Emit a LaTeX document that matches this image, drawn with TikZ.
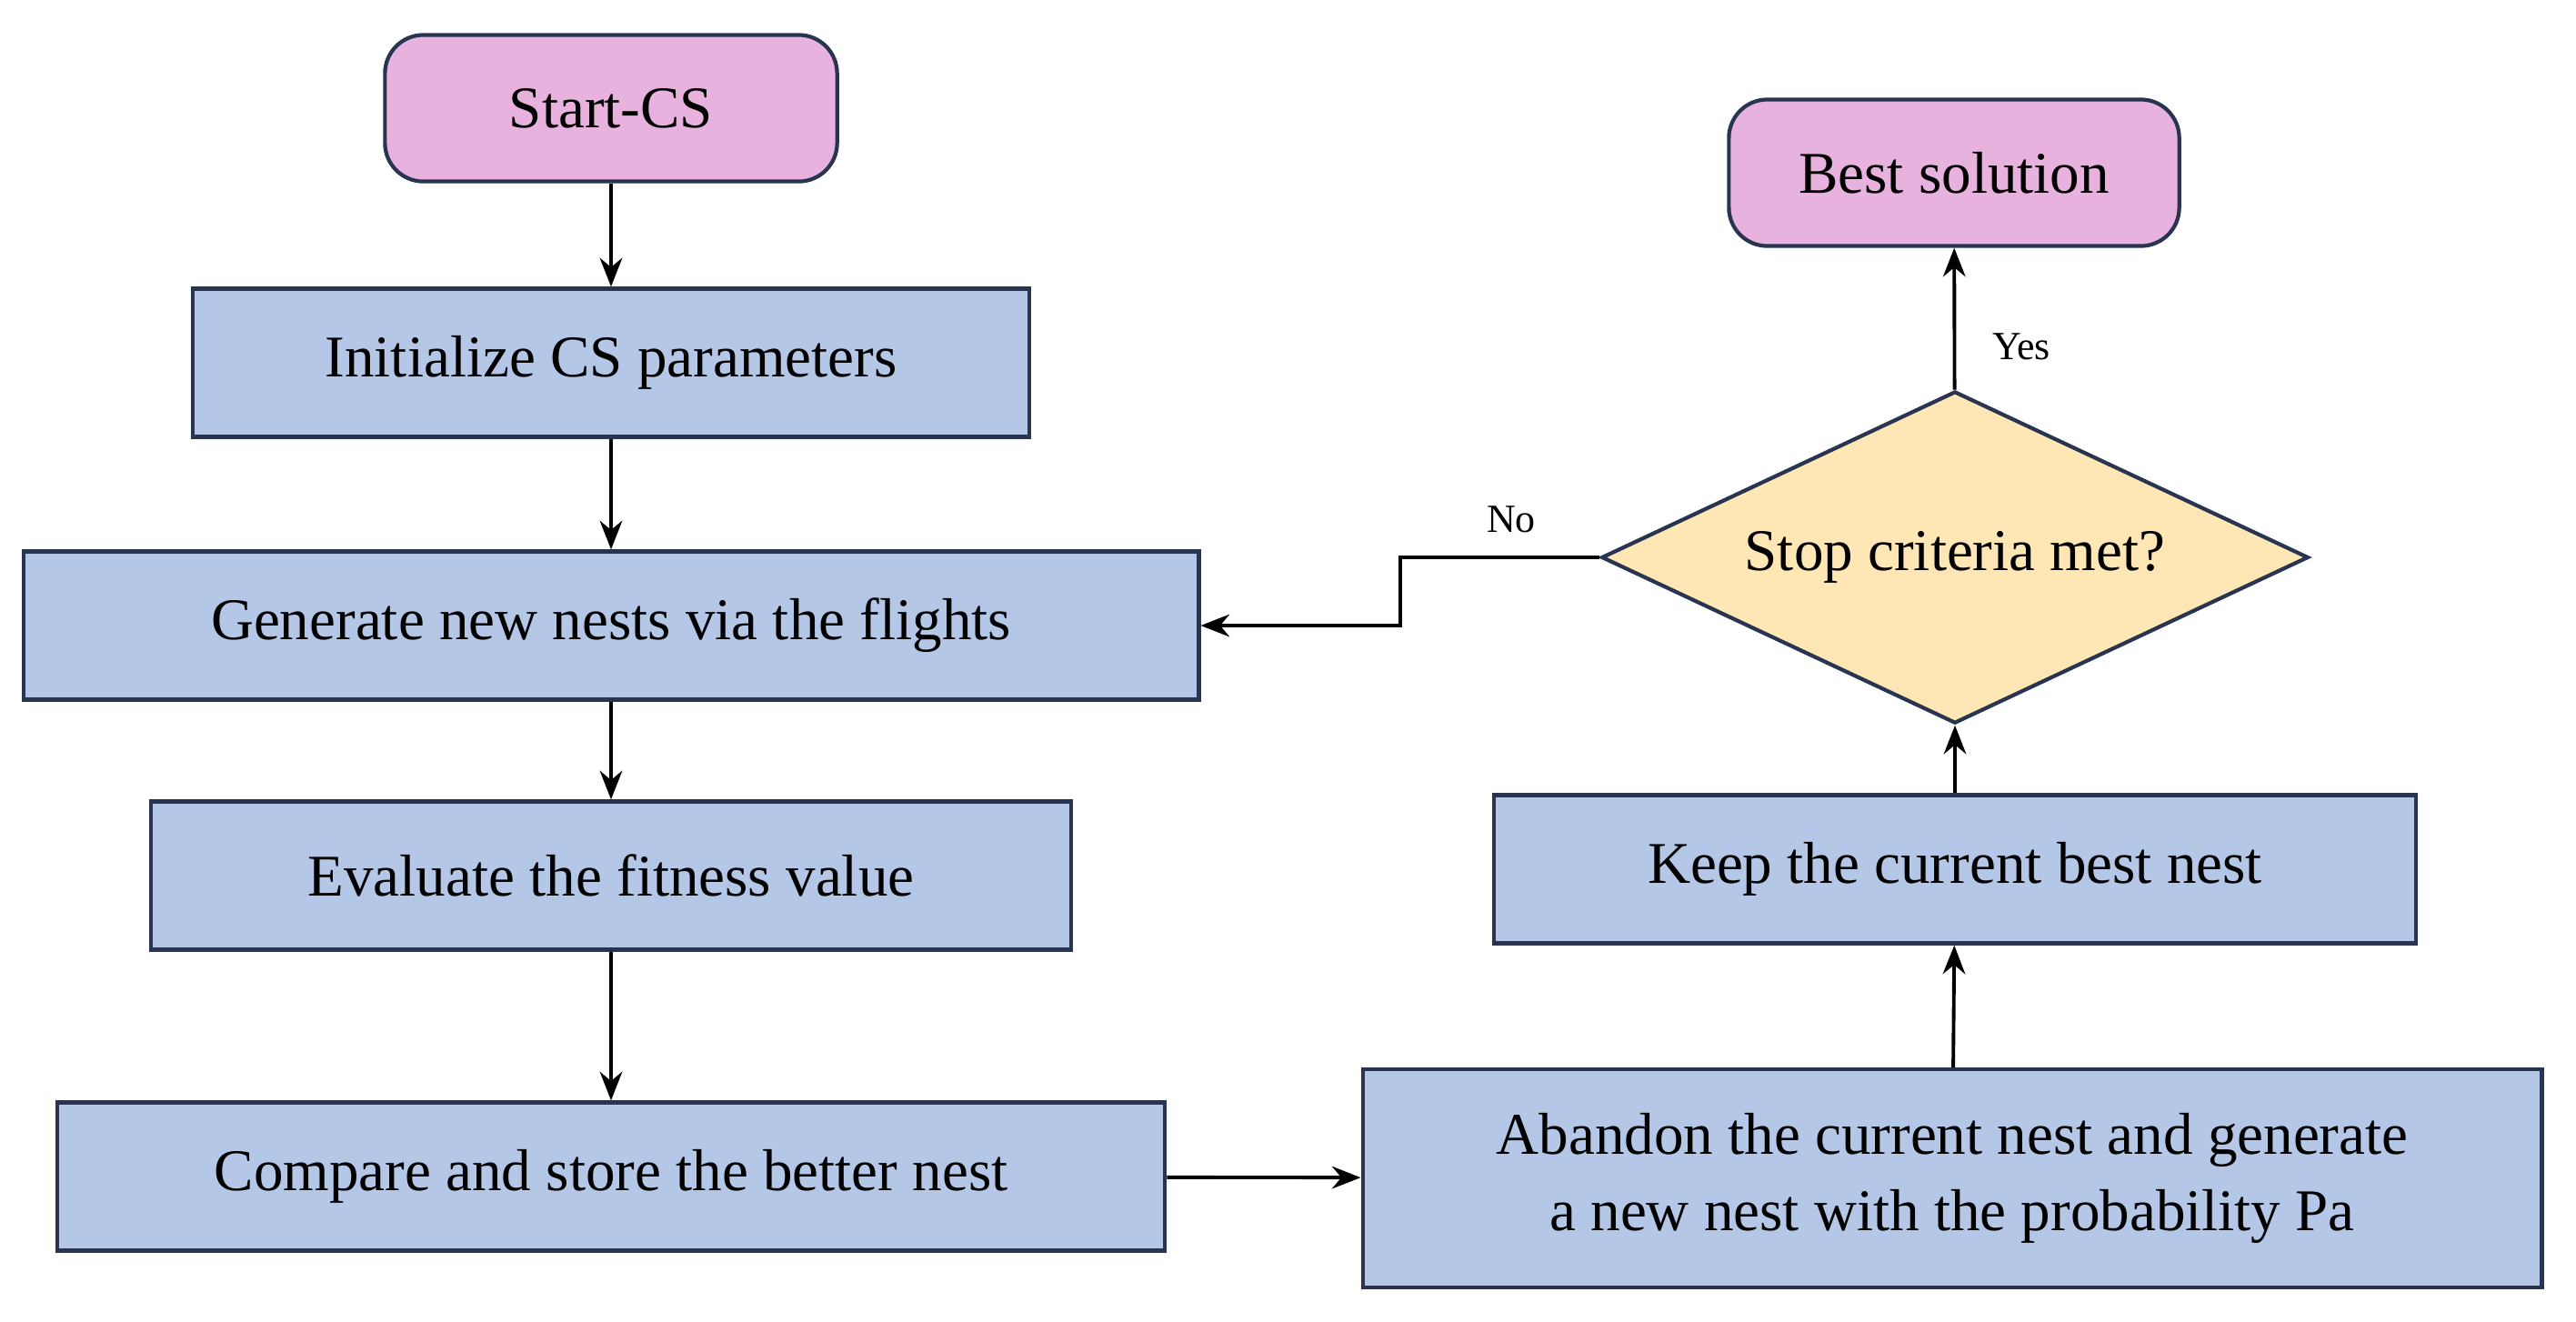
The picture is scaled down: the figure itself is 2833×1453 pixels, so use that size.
\documentclass[tikz,border=0pt]{standalone}
\usepackage{fontspec}
\setmainfont{Liberation Serif}
\usetikzlibrary{arrows.meta,shapes.geometric}
\definecolor{boxblue}{RGB}{180,199,231}
\definecolor{boxpink}{RGB}{232,178,222}
\definecolor{boxyellow}{RGB}{255,231,181}
\definecolor{edgeblue}{RGB}{40,52,80}
\begin{document}
\begin{tikzpicture}[x=0.01cm, y=-0.01cm,
    every node/.style={draw=edgeblue, line width=1.2pt, inner sep=0pt, align=center, font=\fontsize{18.5}{24}\selectfont},
    proc/.style={rectangle, fill=boxblue, minimum height=1.63cm},
    term/.style={rectangle, rounded corners=12pt, fill=boxpink, minimum height=1.61cm},
    test/.style={diamond, fill=boxyellow, aspect=2.13},
    lbl/.style={draw=none, font=\fontsize{12.5}{15}\selectfont},
    arr/.style={-{Stealth[length=9pt,width=7pt]}, line width=1.1pt}]
    \useasboundingbox (0,0) rectangle (2833,1453);
    % left column
    \node [term, minimum width=4.97cm] (start) at (672,119) {Start-CS};
    \node [proc, minimum width=9.2cm] (init) at (672,399) {Initialize CS parameters};
    \node [proc, minimum width=12.92cm] (gen) at (672,688) {Generate new nests via the flights};
    \node [proc, minimum width=10.12cm] (eval) at (672,963) {Evaluate the fitness value};
    \node [proc, minimum width=12.18cm] (comp) at (672,1294) {Compare and store the better nest};

    % right column
    \node [proc, minimum width=12.96cm, minimum height=2.4cm] (aband) at (2147,1296) {Abandon the current nest and generate\\a new nest with the probability Pa};
    \node [proc, minimum width=10.14cm] (keep) at (2150,956) {Keep the current best nest};
    \node [test, minimum width=7.77cm, minimum height=3.65cm] (stop) at (2150,613) {Stop criteria met?};
    \node [term, minimum width=4.95cm] (best) at (2149,190) {Best solution};

    \coordinate (bend1) at (1540,613);
    \coordinate (bend2) at (1540,688);
    \node [lbl] (no) at (1662,571) {No};
    \node [lbl] (yes) at (2223,381) {Yes};

    \draw [arr] (start) -- (init);
    \draw [arr] (init) -- (gen);
    \draw [arr] (gen) -- (eval);
    \draw [arr] (eval) -- (comp);
    \draw [arr] (comp) -- (aband);
    \draw [arr] (aband) -- (keep);
    \draw [arr] (keep) -- (stop);
    \draw [arr] (stop) -- (best);
    \draw [arr] (stop.west) -- (bend1) -- (bend2) -- (gen.east);
\end{tikzpicture}
\end{document}
